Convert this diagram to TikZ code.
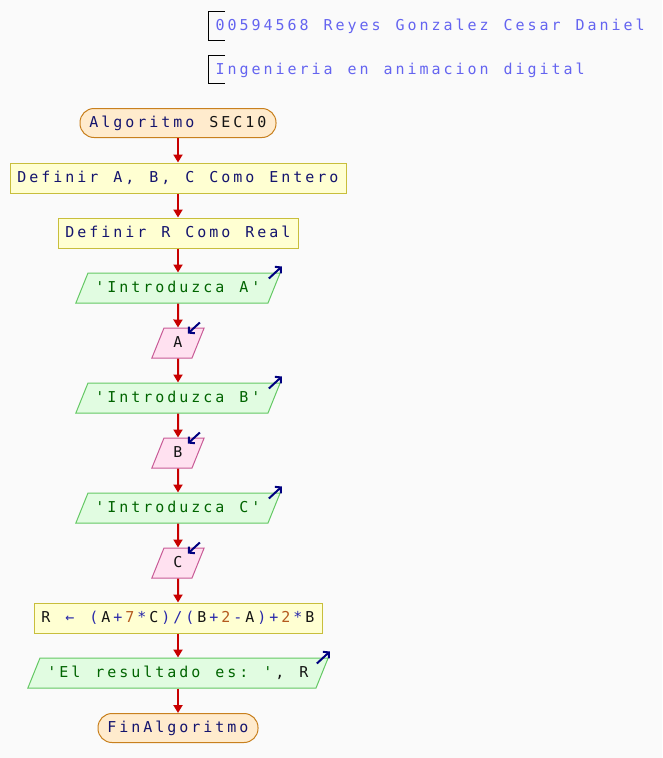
\documentclass[tikz,border=0pt]{standalone}
\usepackage{fontspec}
\usetikzlibrary{positioning, arrows.meta, shapes.geometric}

\newfontfamily\psfont{DejaVu Sans Mono}

\definecolor{bgcol}{RGB}{250,250,250}
\definecolor{hdrcol}{RGB}{100,100,240}
\definecolor{kwcol}{RGB}{20,20,110}
\definecolor{strcol}{RGB}{0,100,0}
\definecolor{numcol}{RGB}{180,90,30}
\definecolor{opcol}{RGB}{40,40,170}
\definecolor{varcol}{RGB}{20,20,20}
\definecolor{flowred}{RGB}{200,0,0}
\definecolor{iconcol}{RGB}{0,0,128}
\definecolor{termfill}{RGB}{255,235,205}
\definecolor{termline}{RGB}{200,128,30}
\definecolor{procfill}{RGB}{255,255,210}
\definecolor{procline}{RGB}{200,190,60}
\definecolor{outfill}{RGB}{225,252,225}
\definecolor{outline}{RGB}{100,200,100}
\definecolor{infill}{RGB}{255,225,240}
\definecolor{inline}{RGB}{200,90,150}

% every character in a 12pt cell, as in the editor
\ExplSyntaxOn
\NewDocumentCommand\mono{m}{\str_map_inline:nn {#1} {\makebox[12pt]{##1}}}
\ExplSyntaxOff
\newcommand{\nmb}[1]{\textcolor{numcol}{\mono{#1}}}
\newcommand{\strg}[1]{\textcolor{strcol}{\mono{#1}}}
\newcommand{\opr}[1]{\textcolor{opcol}{\mono{#1}}}
\newcommand{\vr}[1]{\textcolor{varcol}{\mono{#1}}}

\begin{document}
\begin{tikzpicture}[x=1pt, y=1pt, node distance=55pt, auto,
    font=\psfont\fontsize{15}{18}\selectfont, text=kwcol,
    >={Triangle[length=8pt,width=9pt]},
    every node/.style={text height=12pt, text depth=3pt},
    terminal/.style={rectangle, rounded corners=14pt, draw=termline, fill=termfill, line width=1pt, minimum height=29pt, inner xsep=8pt, inner ysep=0pt},
    process/.style={rectangle, draw=procline, fill=procfill, line width=1pt, minimum height=30pt, inner xsep=6pt, inner ysep=0pt},
    output/.style={trapezium, trapezium left angle=68, trapezium right angle=112, draw=outline, fill=outfill, line width=1pt, inner xsep=6pt, inner ysep=7.5pt},
    input/.style={output, draw=inline, fill=infill, inner xsep=8pt},
    flow/.style={->, draw=flowred, line width=2pt},
    iconarrow/.style={-{Straight Barb[length=4pt,width=9pt]}, draw=iconcol, line width=2pt},
    header/.style={anchor=west, text=hdrcol, minimum height=28pt, inner xsep=6pt, inner ysep=0pt},
    bracket/.style={draw=black, line width=1pt}]
            \fill[bgcol] (0,0) rectangle (662,-758);
            \useasboundingbox (0,0) rectangle (662,-758);

            % Header
            \node (hdrId) [header] at (208,-26) {\mono{00594568 Reyes Gonzalez Cesar Daniel}};
            \node (hdrCarrera) [header] at (208,-69.5) {\mono{Ingenieria en animacion digital}};
            \draw[bracket] ([xshift=17pt]hdrId.north west) -- (hdrId.north west) -- (hdrId.south west) -- ++(17,0);
            \draw[bracket] ([xshift=17pt]hdrCarrera.north west) -- (hdrCarrera.north west) -- (hdrCarrera.south west) -- ++(17,0);

            % Nodes
            \node (inicio) [terminal] at (178,-123) {\mono{Algoritmo }\vr{SEC10}};
            \node (defEnteros) [process, below of=inicio] {\mono{Definir A, B, C Como Entero}};
            \node (defReal) [process, below of=defEnteros] {\mono{Definir R Como Real}};
            \node (msgA) [output, below of=defReal] {\strg{'Introduzca A'}};
            \node (leerA) [input, below of=msgA] {\vr{A}};
            \node (msgB) [output, below of=leerA] {\strg{'Introduzca B'}};
            \node (leerB) [input, below of=msgB] {\vr{B}};
            \node (msgC) [output, below of=leerB] {\strg{'Introduzca C'}};
            \node (leerC) [input, below of=msgC] {\vr{C}};
            \node (calcR) [process, below of=leerC] {\vr{R }\opr{← (}\vr{A}\opr{+}\nmb{7}\opr{*}\vr{C}\opr{)/(}\vr{B}\opr{+}\nmb{2}\opr{-}\vr{A}\opr{)+}\nmb{2}\opr{*}\vr{B}};
            \node (mostrarR) [output, below of=calcR] {\strg{'El resultado es: '}\vr{, R}};
            \node (fin) [terminal, below of=mostrarR] {\mono{FinAlgoritmo}};

            % Arrows
            \draw[flow] (inicio) -- (defEnteros);
            \draw[flow] (defEnteros) -- (defReal);
            \draw[flow] (defReal) -- (msgA);
            \draw[flow] (msgA) -- (leerA);
            \draw[flow] (leerA) -- (msgB);
            \draw[flow] (msgB) -- (leerB);
            \draw[flow] (leerB) -- (msgC);
            \draw[flow] (msgC) -- (leerC);
            \draw[flow] (leerC) -- (calcR);
            \draw[flow] (calcR) -- (mostrarR);
            \draw[flow] (mostrarR) -- (fin);

            % Output / input marks
            \foreach \n in {msgA, msgB, msgC, mostrarR}
                \draw[iconarrow] ([shift={(-12,-6)}]\n.top right corner) -- ++(13,12);
            \foreach \n in {leerA, leerB, leerC}
                \draw[iconarrow] ([shift={(-5,5)}]\n.top right corner) -- ++(-12,-11);
\end{tikzpicture}
\end{document}
